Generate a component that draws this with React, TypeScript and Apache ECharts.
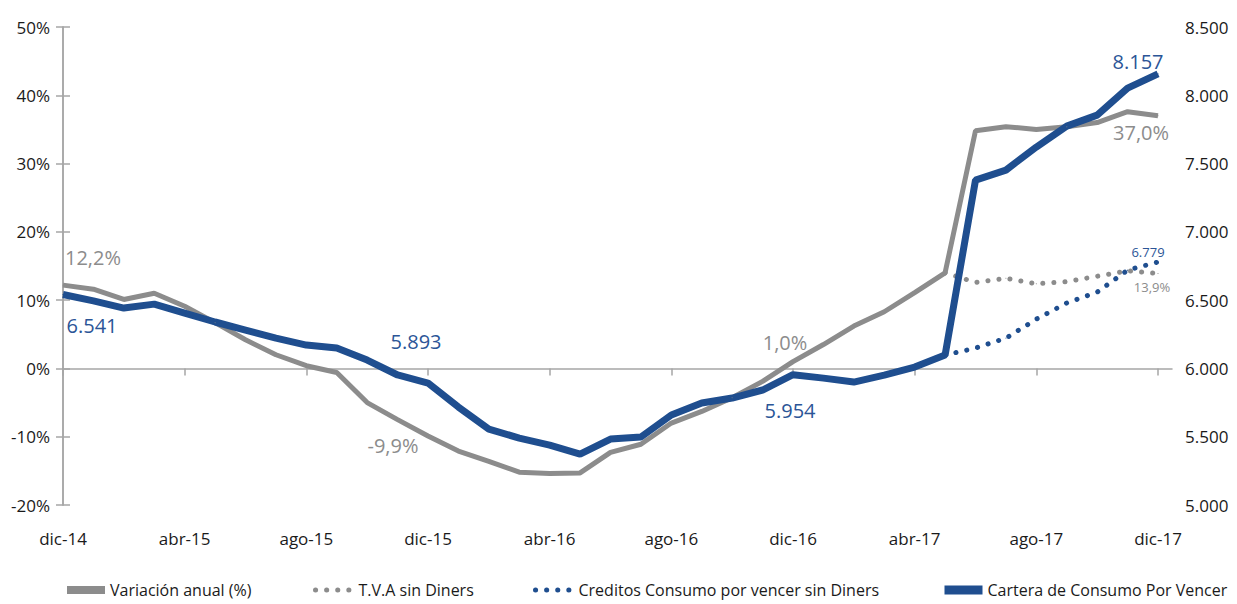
import React, { useEffect, useRef } from "react";
import * as echarts from "echarts";

const months = [
  "dic-14", "ene-15", "feb-15", "mar-15", "abr-15", "may-15", "jun-15", "jul-15", "ago-15", "sep-15", "oct-15", "nov-15",
  "dic-15", "ene-16", "feb-16", "mar-16", "abr-16", "may-16", "jun-16", "jul-16", "ago-16", "sep-16", "oct-16", "nov-16",
  "dic-16", "ene-17", "feb-17", "mar-17", "abr-17", "may-17", "jun-17", "jul-17", "ago-17", "sep-17", "oct-17", "nov-17",
  "dic-17",
];

const variacionAnual = [
  12.2, 11.6, 10.1, 11.0, 9.1, 6.7, 4.2, 2.0, 0.4, -0.6, -5.0, -7.5,
  -9.9, -12.1, -13.6, -15.2, -15.4, -15.3, -12.3, -11.1, -8.0, -6.3, -4.3, -1.9,
  1.0, 3.5, 6.2, 8.3, 11.1, 14.0, 34.8, 35.4, 35.0, 35.4, 36.0, 37.6,
  37.0,
];

const carteraConsumo = [
  6541, 6495, 6442, 6471, 6405, 6340, 6281, 6222, 6171, 6149, 6061, 5952,
  5893, 5717, 5556, 5490, 5439, 5373, 5483, 5498, 5659, 5747, 5783, 5842,
  5954, 5929, 5900, 5951, 6010, 6098, 7379, 7452, 7621, 7774, 7855, 8052,
  8157,
];

// partial series start at "may-17"
const partialStartMonth = "may-17";
const tvaSinDiners = [14.0, 12.6, 13.2, 12.4, 12.7, 13.5, 14.3, 13.9];
const creditosSinDiners = [6098, 6149, 6222, 6361, 6479, 6559, 6720, 6779];

const leftTicks = { min: -20, max: 50, step: 10 };
const rightTicks = { min: 5000, max: 8500, step: 500 };

const seriesNames = [
  "Variación anual (%)",
  "T.V.A sin Diners",
  "Creditos Consumo por vencer sin Diners",
  "Cartera de Consumo Por Vencer",
];

const FONT = "'Open Sans', sans-serif";
const GRAY = "#8c8c8c";
const BLUE = "#1f4e8f";
const BLUE_TXT = "#2b5597";
const AXIS = "#a6a6a6";

const fmtPct = (v: number) => v.toFixed(1).replace(".", ",") + "%";
const fmtThousand = (v: number) => (v / 1000).toFixed(3);

export default function App() {
  const ref = useRef<HTMLDivElement>(null);

  useEffect(() => {
    if (!ref.current) return;
    const chart = echarts.init(ref.current, null, { renderer: "svg" });

    const start = months.indexOf(partialStartMonth);
    const lastIdx = months.length - 1;
    const XMAX = 36.46;
    const tickIdx = months.map((_, i) => i).filter((i) => i % 4 === 0);

    const big = { fontSize: 20, fontFamily: FONT };
    const small = { fontSize: 13, fontFamily: FONT };
    const pct = (p: any) => fmtPct(p.value[1]);
    const thou = (p: any) => fmtThousand(p.value[1]);

    const ann: Record<number, Record<number, any>> = {
      0: {
        0: { position: "top", offset: [30, -12], color: GRAY, ...big, formatter: pct },
        12: { position: "bottom", offset: [-35, -6], color: GRAY, ...big, formatter: pct },
        24: { position: "top", offset: [-8, -4], color: GRAY, ...big, formatter: pct },
        [lastIdx]: { position: "bottom", offset: [-17, 1], color: GRAY, ...big, formatter: pct },
      },
      1: {
        [lastIdx]: { position: "bottom", offset: [-6, 1], color: GRAY, ...small, formatter: pct },
      },
      2: {
        [lastIdx]: { position: "top", offset: [-10, 2], color: BLUE_TXT, ...small, formatter: thou },
      },
      3: {
        0: { position: "bottom", offset: [29, 15], color: BLUE_TXT, ...big, formatter: thou },
        12: { position: "top", offset: [-12, -26], color: BLUE_TXT, ...big, formatter: thou },
        24: { position: "bottom", offset: [-3, 20], color: BLUE_TXT, ...big, formatter: thou },
        [lastIdx]: { position: "top", offset: [-20, 3], color: BLUE_TXT, ...big, formatter: thou },
      },
    };

    const build = (sIdx: number, vals: number[], offset: number) =>
      vals.map((v, k) => {
        const i = k + offset;
        const lab = ann[sIdx][i];
        return lab ? { value: [i, v], label: { show: true, ...lab } } : { value: [i, v] };
      });

    const dotDash = [0.1, 11];

    const legendLefts = [63, 313, 533, 940];
    const legendLine = [
      { width: 8, type: "solid", cap: "butt", color: GRAY },
      { width: 5, type: dotDash, cap: "round", color: GRAY },
      { width: 5, type: dotDash, cap: "round", color: BLUE },
      { width: 9, type: "solid", cap: "butt", color: BLUE },
    ];

    const option: any = {
      animation: false,
      textStyle: { fontFamily: FONT },
      grid: { left: 63, right: 65, top: 27, bottom: 99 },
      xAxis: [
        {
          type: "value",
          min: 0,
          max: XMAX,
          interval: 4,
          axisLine: { show: true, onZero: true, lineStyle: { color: AXIS, width: 1.5 } },
          axisTick: { show: true, length: 7, lineStyle: { color: AXIS, width: 1.5 }, customValues: tickIdx },
          axisLabel: { show: false },
          splitLine: { show: false },
        },
        {
          type: "value",
          min: 0,
          max: XMAX,
          interval: 4,
          position: "bottom",
          axisLine: { show: false, onZero: false },
          axisTick: { show: false },
          axisLabel: {
            show: true,
            customValues: tickIdx,
            formatter: (v: number) => months[v] ?? "",
            margin: 25,
            fontSize: 17,
            color: "#1a1a1a",
            fontFamily: FONT,
          },
          splitLine: { show: false },
        },
      ],
      yAxis: [
        {
          type: "value",
          position: "left",
          min: leftTicks.min,
          max: leftTicks.max,
          interval: leftTicks.step,
          axisLine: { show: true, lineStyle: { color: AXIS, width: 1.5 } },
          axisTick: { show: true, length: 7, lineStyle: { color: AXIS, width: 1.5 } },
          axisLabel: { formatter: (v: number) => v + "%", fontSize: 17, color: "#1a1a1a", margin: 13, fontFamily: FONT },
          splitLine: { show: false },
        },
        {
          type: "value",
          position: "right",
          min: rightTicks.min,
          max: rightTicks.max,
          interval: rightTicks.step,
          axisLine: { show: true, lineStyle: { color: AXIS, width: 1.5 } },
          axisTick: { show: true, length: 7, lineStyle: { color: AXIS, width: 1.5 } },
          axisLabel: { formatter: (v: number) => fmtThousand(v), fontSize: 17, color: "#1a1a1a", margin: 13, fontFamily: FONT },
          splitLine: { show: false },
        },
      ],
      legend: seriesNames.map((n, k) => ({
        data: [n],
        left: legendLefts[k],
        top: 582,
        padding: 0,
        itemWidth: 38,
        itemHeight: 10,
        itemGap: 2,
        selectedMode: false,
        itemStyle: { opacity: 0 },
        lineStyle: legendLine[k],
        textStyle: { fontSize: 16, color: "#1a1a1a", fontFamily: FONT },
      })),
      series: [
        {
          name: seriesNames[0],
          type: "line",
          xAxisIndex: 0,
          yAxisIndex: 0,
          symbol: "circle",
          symbolSize: 1,
          showSymbol: true,
          itemStyle: { color: GRAY },
          lineStyle: { color: GRAY, width: 5 },
          data: build(0, variacionAnual, 0),
        },
        {
          name: seriesNames[1],
          type: "line",
          xAxisIndex: 0,
          yAxisIndex: 0,
          symbol: "circle",
          symbolSize: 1,
          showSymbol: true,
          itemStyle: { color: GRAY },
          lineStyle: { color: GRAY, width: 5, type: dotDash, cap: "round" },
          data: build(1, tvaSinDiners, start),
        },
        {
          name: seriesNames[2],
          type: "line",
          xAxisIndex: 0,
          yAxisIndex: 1,
          symbol: "circle",
          symbolSize: 1,
          showSymbol: true,
          itemStyle: { color: BLUE },
          lineStyle: { color: BLUE, width: 5, type: dotDash, cap: "round" },
          data: build(2, creditosSinDiners, start),
        },
        {
          name: seriesNames[3],
          type: "line",
          xAxisIndex: 0,
          yAxisIndex: 1,
          symbol: "circle",
          symbolSize: 1,
          showSymbol: true,
          itemStyle: { color: BLUE },
          lineStyle: { color: BLUE, width: 7 },
          data: build(3, carteraConsumo, 0),
        },
      ],
    };

    chart.setOption(option);
    return () => chart.dispose();
  }, []);

  return (
    <div
      ref={ref}
      style={{ position: "fixed", left: 0, top: 0, width: 1237, height: 604, background: "#fff" }}
    />
  );
}
